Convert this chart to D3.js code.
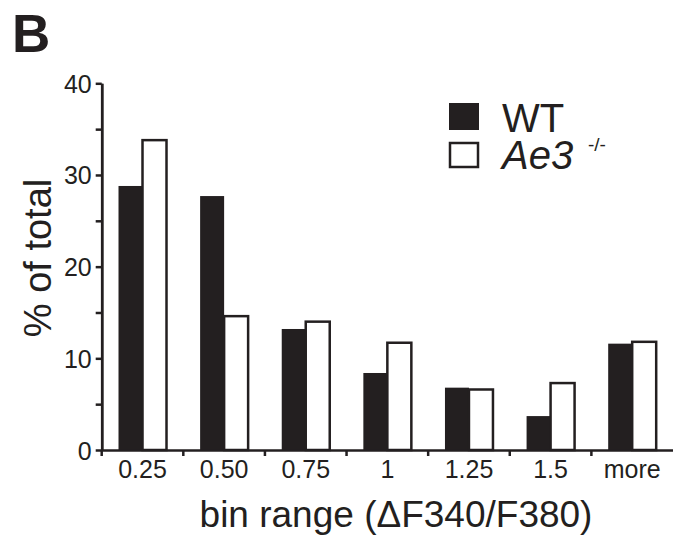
<!DOCTYPE html>
<meta charset='utf-8'>
<div class="CHART">
</div>
<script src="https://d3js.org/d3.v7.min.js"></script>
<style>
	body { margin: 0; background: #fff; }
	text { font-family: "Liberation Sans", Arial, sans-serif; fill: #231f20; }
	.axis path, .axis line { stroke: #231f20; stroke-width: 2.5px; }
	.bar-wt { fill: #231f20; }
	.bar-ae3 { fill: #fff; stroke: #231f20; stroke-width: 2.5px; }
</style>
<script>
	var categories = ["0.25", "0.50", "0.75", "1", "1.25", "1.5", "more"];
	var series = ["WT", "Ae3"];
	var wtValues = [28.8, 27.7, 13.2, 8.4, 6.8, 3.7, 11.6];
	var ae3Values = [33.8, 14.6, 14.0, 11.7, 6.6, 7.3, 11.8];
	var majorTicks = [0, 10, 20, 30, 40];
	var minorTicks = [5, 15, 25, 35];

	var width = 673, height = 538;
	var svg = d3.select(".CHART")
				.append("svg")
				.attr("width", width)
				.attr("height", height);

	var x0 = d3.scaleBand().domain(categories).range([101.7, 673]);
	var x1 = d3.scaleBand().domain(series).range([0, 48]);
	var y = d3.scaleLinear().domain([0, 40]).range([450, 83.3]);

	var rows = categories.map(function(c, i) {
		return {cat: c, WT: wtValues[i], Ae3: ae3Values[i]};
	});

	// bars
	var groups = svg.append("g")
		.selectAll("g")
		.data(rows)
		.enter()
		.append("g")
		.attr("transform", function(d) { return "translate(" + (x0(d.cat) + (x0.bandwidth() - 48) / 2) + ",0)"; });
	groups.selectAll("rect")
		.data(function(d) { return series.map(function(s) { return {key: s, value: d[s]}; }); })
		.enter()
		.append("rect")
		.attr("class", function(d) { return d.key == "WT" ? "bar-wt" : "bar-ae3"; })
		.attr("x", function(d) { return x1(d.key); })
		.attr("width", x1.bandwidth())
		.attr("y", function(d) { return y(d.value); })
		.attr("height", function(d) { return y(0) - y(d.value); });

	// y axis, major + minor ticks
	svg.append("g")
		.attr("class", "axis")
		.attr("transform", "translate(101.7,0)")
		.call(d3.axisLeft(y).tickValues(minorTicks).tickSize(6).tickFormat("").tickSizeOuter(0));
	var yAxis = svg.append("g")
		.attr("class", "axis")
		.attr("transform", "translate(101.7,0)")
		.call(d3.axisLeft(y).tickValues(majorTicks).tickSize(6).tickPadding(4).tickSizeOuter(0));
	yAxis.selectAll("text")
		.style("font-size", "25px")
		.attr("dy", "0.36em");

	// x axis: ticks between groups, labels centered
	var xAxis = svg.append("g")
		.attr("class", "axis")
		.attr("transform", "translate(0,450)")
		.call(d3.axisBottom(x0).tickSize(0).tickPadding(8).tickSizeOuter(0));
	xAxis.selectAll("text")
		.style("font-size", "25px")
		.attr("dy", "0.78em");
	xAxis.selectAll(".sep")
		.data(categories)
		.enter()
		.append("line")
		.attr("x1", function(d) { return x0(d); })
		.attr("x2", function(d) { return x0(d); })
		.attr("y1", 0)
		.attr("y2", 6);

	// axis titles
	svg.append("text")
		.attr("x", 396)
		.attr("y", 527)
		.attr("text-anchor", "middle")
		.style("font-size", "37px")
		.text("bin range (\u0394F340/F380)");
	svg.append("text")
		.attr("transform", "translate(51,258) rotate(-90)")
		.attr("text-anchor", "middle")
		.style("font-size", "38px")
		.text("% of total");

	svg.append("text")
		.attr("x", 12)
		.attr("y", 52)
		.style("font-size", "53px")
		.style("font-weight", "bold")
		.text("B");

	// legend
	var legend = svg.append("g").attr("transform", "translate(449,103)");
	legend.append("rect").attr("class", "bar-wt")
		.attr("x", 0).attr("y", 0).attr("width", 30).attr("height", 27);
	legend.append("rect").attr("class", "bar-ae3")
		.attr("x", 1).attr("y", 40).attr("width", 28).attr("height", 24);
	legend.append("text")
		.attr("x", 53).attr("y", 29)
		.style("font-size", "40px")
		.text("WT");
	var ae3Label = legend.append("text")
		.attr("x", 53).attr("y", 66)
		.style("font-size", "40px");
	ae3Label.append("tspan").style("font-style", "italic").text("Ae3");
	legend.append("text")
		.attr("x", 139).attr("y", 48)
		.style("font-size", "19px")
		.text("-/-");
</script>
